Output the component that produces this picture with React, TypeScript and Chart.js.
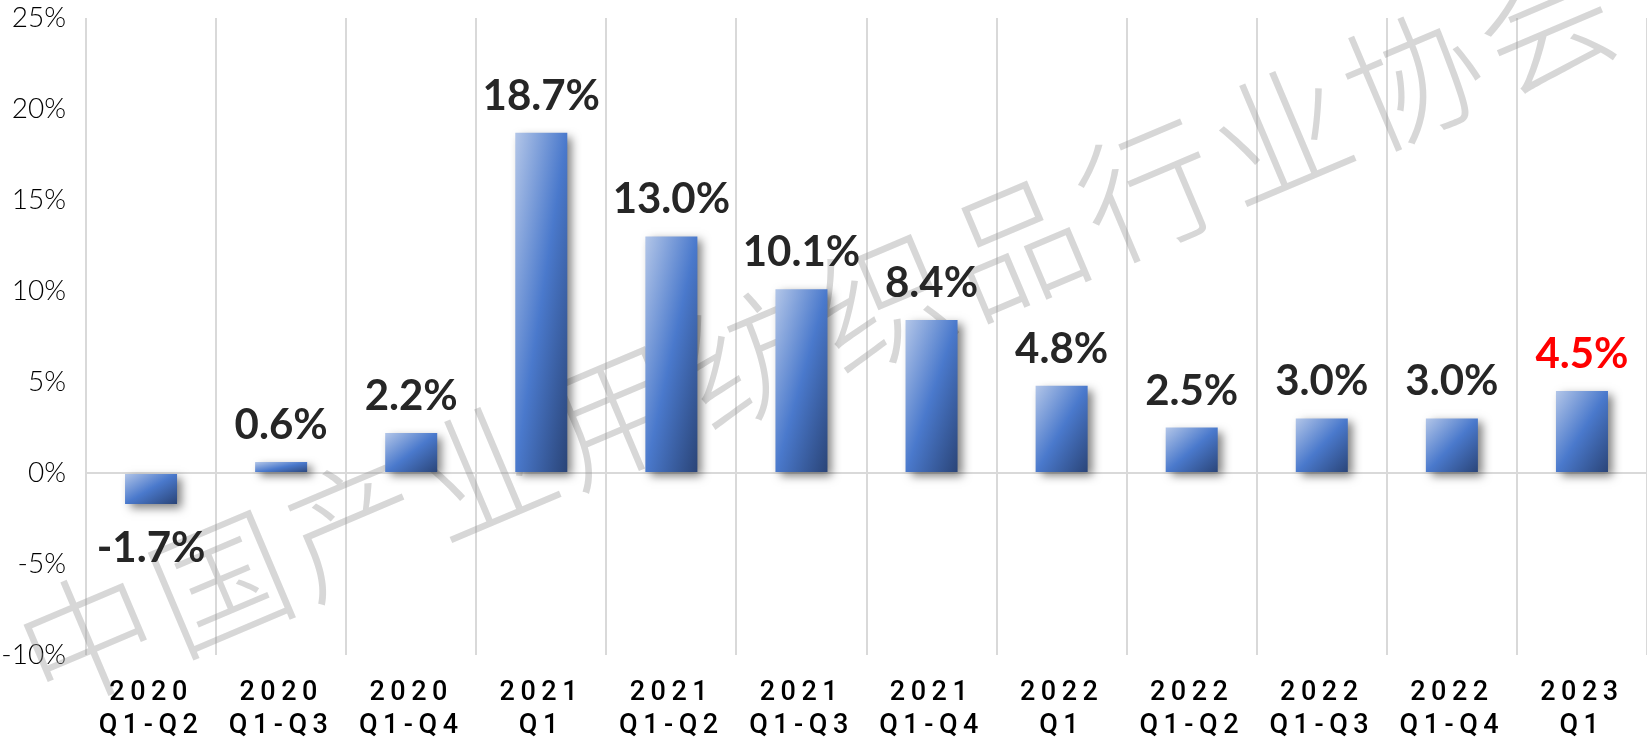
import React, { useEffect, useRef } from "react";
import { Chart, registerables } from "chart.js";

Chart.register(...registerables);

const categories: string[][] = [
  ["2020", "Q1-Q2"],
  ["2020", "Q1-Q3"],
  ["2020", "Q1-Q4"],
  ["2021", "Q1"],
  ["2021", "Q1-Q2"],
  ["2021", "Q1-Q3"],
  ["2021", "Q1-Q4"],
  ["2022", "Q1"],
  ["2022", "Q1-Q2"],
  ["2022", "Q1-Q3"],
  ["2022", "Q1-Q4"],
  ["2023", "Q1"],
];
const growth: number[] = [-1.7, 0.6, 2.2, 18.7, 13.0, 10.1, 8.4, 4.8, 2.5, 3.0, 3.0, 4.5];
const labelColors: string[] = [
  "#262626", "#262626", "#262626", "#262626", "#262626", "#262626",
  "#262626", "#262626", "#262626", "#262626", "#262626", "#ff0000",
];
const yMin = -10;
const yMax = 25;
const yStep = 5;
const watermark = "中国产业用纺织品行业协会";

const BAR_FRACTION = 0.4;

function barGradient(ctx: any) {
  const chart = ctx.chart;
  const xs = chart.scales?.x;
  const ys = chart.scales?.y;
  if (!xs || !ys || ctx.type !== "data" || !xs.width) return "#4a7acb";
  const i = ctx.dataIndex;
  const v = ctx.raw as number;
  const w = (xs.width / categories.length) * BAR_FRACTION;
  const cx = xs.getPixelForValue(i);
  const y0 = ys.getPixelForValue(0);
  const y1 = ys.getPixelForValue(v);
  const left = cx - w / 2;
  const top = Math.min(y0, y1);
  const h = Math.max(Math.abs(y1 - y0), 1);
  const s = 2 / (1 / (w * w) + 1 / (h * h));
  const g = chart.ctx.createLinearGradient(left, top, left + s / w, top + s / h);
  g.addColorStop(0, "#b3c6e8");
  g.addColorStop(0.5, "#4a79cc");
  g.addColorStop(1, "#2a4477");
  return g;
}

const decorPlugin = {
  id: "decor",
  beforeDatasetsDraw(chart: any) {
    const ctx = chart.ctx as CanvasRenderingContext2D;
    // watermark
    ctx.save();
    ctx.fillStyle = "rgba(150,150,150,0.38)";
    ctx.font = '300 136px "Noto Sans CJK SC"';
    ctx.textAlign = "center";
    ctx.textBaseline = "middle";
    const sx = 88, sy = 638, dx = 132.5, dy = -56;
    const ang = Math.atan2(dy, dx);
    const chars = Array.from(watermark);
    chars.forEach((c, i) => {
      ctx.save();
      ctx.translate(sx + dx * i, sy + dy * i);
      ctx.rotate(ang);
      ctx.fillText(c, 0, 0);
      ctx.restore();
    });
    ctx.restore();
    // shadow for bars
    ctx.save();
    ctx.shadowColor = "rgba(0,0,0,0.5)";
    ctx.shadowBlur = 9;
    ctx.shadowOffsetX = 5;
    ctx.shadowOffsetY = 4;
  },
  afterDatasetsDraw(chart: any) {
    const ctx = chart.ctx as CanvasRenderingContext2D;
    ctx.restore();
    const meta = chart.getDatasetMeta(0);
    ctx.save();
    ctx.font = 'bold 42px "Lato"';
    ctx.textAlign = "center";
    ctx.textBaseline = "alphabetic";
    meta.data.forEach((el: any, i: number) => {
      const v = growth[i];
      ctx.fillStyle = labelColors[i];
      const txt = v.toFixed(1) + "%";
      const y = v >= 0 ? el.y - 23 : el.y + 58;
      ctx.fillText(txt, el.x, y);
    });
    ctx.restore();
    // letter spacing for x-axis labels (drawn in z=1 layer)
    (ctx as any).letterSpacing = "5.5px";
  },
  afterDraw(chart: any) {
    (chart.ctx as any).letterSpacing = "0px";
  },
};

export default function App() {
  const canvasRef = useRef<HTMLCanvasElement | null>(null);

  useEffect(() => {
    document.body.style.margin = "0";
    const canvas = canvasRef.current;
    if (!canvas) return;
    const chart = new Chart(canvas, {
      type: "bar",
      data: {
        labels: categories,
        datasets: [
          {
            data: growth,
            backgroundColor: barGradient as any,
            borderWidth: 0,
            barPercentage: BAR_FRACTION,
            categoryPercentage: 1.0,
          },
        ],
      },
      plugins: [decorPlugin],
      options: {
        animation: false,
        responsive: true,
        maintainAspectRatio: false,
        layout: { padding: { top: 18, left: 0, right: 0, bottom: 0 } },
        plugins: {
          legend: { display: false },
          tooltip: { enabled: false },
        },
        scales: {
          x: {
            offset: true,
            grid: {
              offset: true,
              color: "#d9d9d9",
              lineWidth: 2,
              drawTicks: false,
            },
            border: { display: false },
            ticks: {
              z: 1,
              padding: 21,
              color: "#000000",
              maxRotation: 0,
              autoSkip: false,
              font: { family: "Roboto", size: 27, weight: "500", lineHeight: 1.25 },
            },
            afterFit: (scale: any) => {
              scale.height = 91;
              scale.paddingLeft = 0;
              scale.paddingRight = 0;
            },
          },
          y: {
            min: yMin,
            max: yMax,
            grid: {
              color: (c: any) => (c.tick && c.tick.value === 0 ? "#d9d9d9" : "rgba(0,0,0,0)"),
              lineWidth: 2,
              drawTicks: false,
            },
            border: { display: false },
            ticks: {
              stepSize: yStep,
              padding: 20,
              color: "#000000",
              font: { family: "Lato", size: 28, weight: "300" },
              callback: (v: any) => v + "%",
            },
            afterFit: (scale: any) => {
              scale.width = 86;
              scale.paddingTop = 0;
              scale.paddingBottom = 0;
            },
          },
        },
      },
    });
    return () => chart.destroy();
  }, []);

  return (
    <div style={{ position: "absolute", left: 0, top: 0, width: 1647, height: 746 }}>
      <canvas ref={canvasRef} />
    </div>
  );
}
